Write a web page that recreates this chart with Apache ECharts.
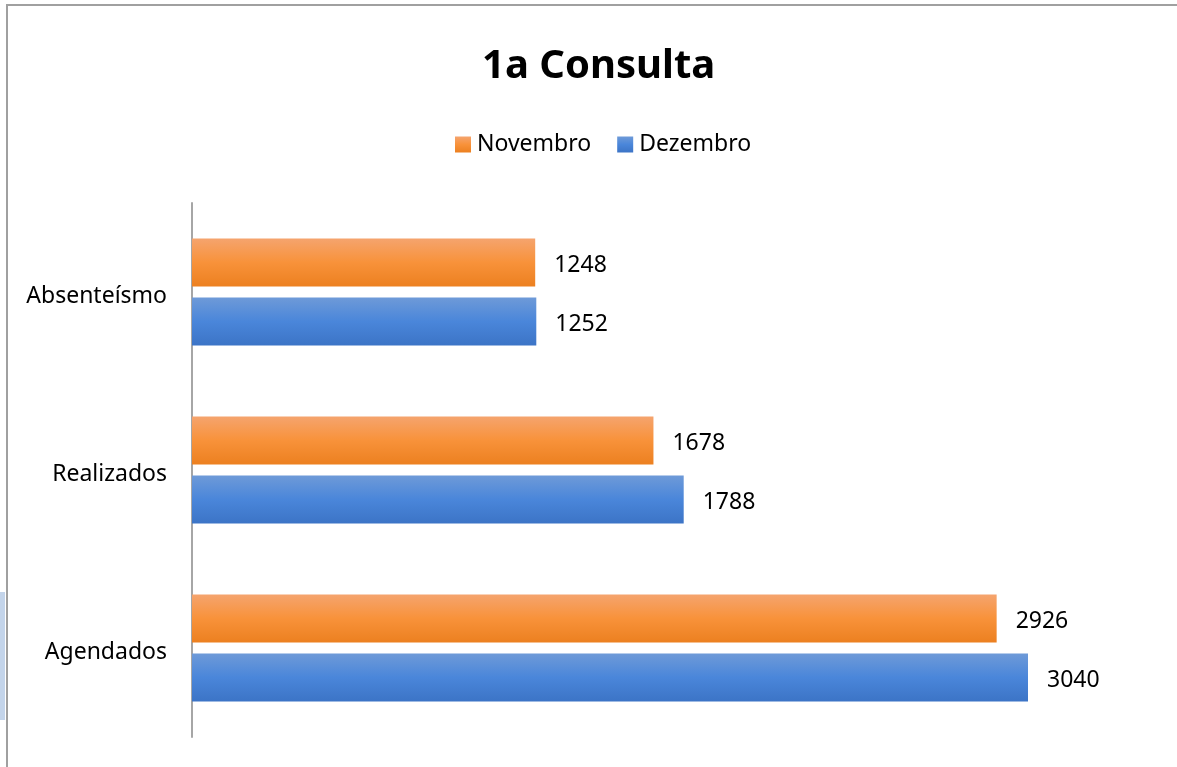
<!DOCTYPE html>
<html>
<head>
<meta charset="utf-8">
<script src="https://cdn.jsdelivr.net/npm/echarts@6/dist/echarts.min.js"></script>
<style>
  html, body { margin: 0; padding: 0; background: #fff; }
  #chart { width: 1177px; height: 767px; }
</style>
</head>
<body>
<div id="chart"></div>
<script>
// categories top to bottom
var categories = ['Absenteísmo', 'Realizados', 'Agendados'];
var novembro = [1248, 1678, 2926];
var dezembro = [1252, 1788, 3040];

var font = '"Noto Sans", "Open Sans", sans-serif';

function grad(top, mid, bottom) {
  return new echarts.graphic.LinearGradient(0, 0, 0, 1, [
    { offset: 0, color: top },
    { offset: 0.5, color: mid },
    { offset: 1, color: bottom }
  ]);
}

var chart = echarts.init(document.getElementById('chart'));

var labelOpt = {
  show: true,
  position: 'right',
  distance: 19,
  offset: [0, 3],
  color: '#000',
  fontFamily: font,
  fontSize: 23
};

chart.setOption({
  animation: false,
  title: {
    text: '1a Consulta',
    left: 477,
    top: 42,
    textStyle: { fontFamily: font, fontSize: 40, fontWeight: 'bold', color: '#000' }
  },
  legend: {
    top: 128,
    left: 450,
    icon: 'rect',
    itemWidth: 16,
    itemHeight: 16,
    itemGap: 26,
    data: ['Novembro', 'Dezembro'],
    textStyle: { fontFamily: font, fontSize: 23, color: '#000', padding: [0, 0, 0, 1] }
  },
  grid: { left: 192, right: 22.5, top: 203, bottom: 30 },
  xAxis: {
    type: 'value',
    min: 0,
    max: 3500,
    show: false
  },
  yAxis: {
    type: 'category',
    inverse: true,
    data: categories,
    axisLine: { show: true, lineStyle: { color: '#a6a6a6', width: 2 } },
    axisTick: { show: false },
    axisLabel: {
      margin: 25, color: '#000', fontFamily: font, fontSize: 23,
      verticalAlign: 'top', lineHeight: 8
    }
  },
  graphic: [
    { type: 'rect', shape: { x: 0, y: 592, width: 5, height: 128 }, style: { fill: '#c3d4ea' } },
    { type: 'line', shape: { x1: 6, y1: 5, x2: 1177, y2: 5 }, style: { stroke: '#a0a0a0', lineWidth: 2 } },
    { type: 'line', shape: { x1: 7, y1: 4, x2: 7, y2: 767 }, style: { stroke: '#a0a0a0', lineWidth: 2 } }
  ],
  series: [
    {
      name: 'Novembro',
      type: 'bar',
      data: novembro,
      barWidth: 48,
      barGap: '23%',
      itemStyle: { color: grad('#f5a46e', '#f8923a', '#ec8020') },
      label: labelOpt
    },
    {
      name: 'Dezembro',
      type: 'bar',
      data: dezembro,
      barWidth: 48,
      barGap: '23%',
      itemStyle: { color: grad('#6e9ad8', '#4a86da', '#3c74c6') },
      label: labelOpt
    }
  ]
});
</script>
</body>
</html>
